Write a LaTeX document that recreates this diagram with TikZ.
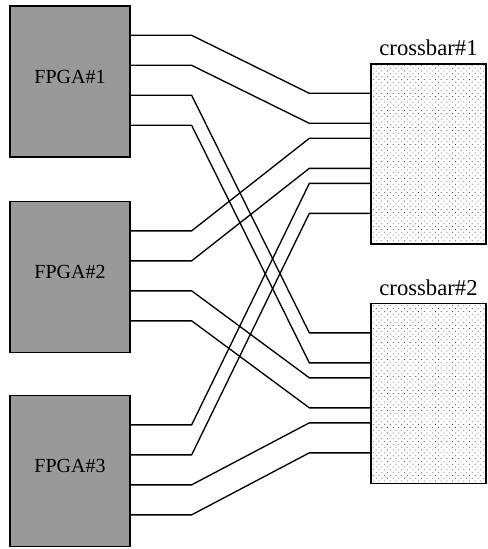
\documentclass[tikz,border=0pt]{standalone}
\usepackage{fontspec}
\setmainfont{Liberation Serif}
\usetikzlibrary{positioning, calc, patterns.meta}

\begin{document}
\begin{tikzpicture}[
    x=0.75pt, y=-0.75pt,
    line width=1pt,
    fpgabox/.style={
        draw,
        fill=black!40,
        minimum width=90pt,
        minimum height=113.25pt,
        text depth=7pt,
        font=\fontsize{15}{17}\selectfont
    },
    xbarbox/.style={
        draw,
        pattern={Dots[distance=3pt, angle=45, radius=0.4pt]},
        pattern color=black!80,
        minimum width=86.25pt,
        minimum height=135pt
    },
    xbarlabel/.style={
        inner sep=0pt,
        font=\fontsize{17}{20}\selectfont
    }
]
    \useasboundingbox (0,0) rectangle (487,549);

    \node[fpgabox] (f1) at (70, 81.5) {FPGA\#1};
    \node[fpgabox] (f2) at (70, 277) {FPGA\#2};
    \node[fpgabox] (f3) at (70, 471) {FPGA\#3};

    \node[xbarbox] (c1) at (428.5, 154) {};
    \node[xbarbox] (c2) at (428.5, 393.5) {};
    \node[xbarlabel, above=5pt of c1] (l1) {crossbar\#1};
    \node[xbarlabel, above=5pt of c2] (l2) {crossbar\#2};

    \foreach \i in {1,2,3}
        \foreach \j in {1,...,4}
            \coordinate (f\i-\j) at ($(f\i.north east)+(0,{30*\j})$);
    \foreach \c in {1,2}
        \foreach [count=\n] \d in {30,60,75,105,120,150}
            \coordinate (c\c-\n) at ($(c\c.north west)+(0,\d)$);

    \foreach \i in {1,2,3} {
        \foreach \k in {1,2} {
            \pgfmathtruncatemacro{\n}{2*(\i-1)+\k}
            \pgfmathtruncatemacro{\m}{\k+2}
            \draw (f\i-\k) -- ++(61,0) -- ($(c1-\n)+(-61,0)$) -- (c1-\n);
            \draw (f\i-\m) -- ++(61,0) -- ($(c2-\n)+(-61,0)$) -- (c2-\n);
        }
    }
\end{tikzpicture}
\end{document}
